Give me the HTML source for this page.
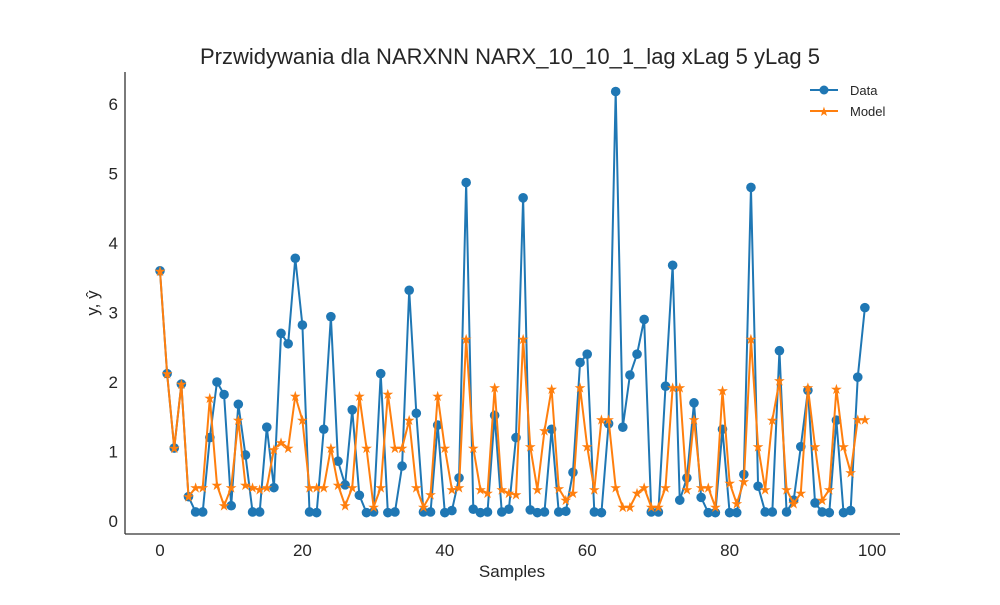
<!DOCTYPE html>
<html><head><meta charset="utf-8"><style>
body{margin:0;background:#fff}
svg text{font-family:"Liberation Sans",sans-serif}
</style></head><body>
<svg id="chart" width="1000" height="600">
<text x="510" y="64" font-size="22" text-anchor="middle" fill="#262626">Przwidywania dla NARXNN NARX_10_10_1_lag xLag 5 yLag 5</text>
<g id="plot"></g>
<line x1="125" y1="72" x2="125" y2="534" stroke="#333" stroke-width="1.3"/>
<line x1="125" y1="534" x2="900" y2="534" stroke="#333" stroke-width="1.3"/>
<text x="512" y="577" font-size="17" text-anchor="middle" fill="#262626">Samples</text>
<text transform="translate(98,303) rotate(-90)" font-size="17" text-anchor="middle" fill="#262626">y, ŷ</text>
<g>
<line x1="810" y1="90" x2="838" y2="90" stroke="#1f77b4" stroke-width="2"/>
<circle cx="824" cy="90" r="4.5" fill="#1f77b4"/>
<text x="850" y="95" font-size="13" fill="#262626">Data</text>
<line x1="810" y1="111" x2="838" y2="111" stroke="#ff7f0e" stroke-width="2"/>
<text x="824" y="116" font-size="13" text-anchor="middle" fill="#ff7f0e">★</text>
<text x="850" y="116" font-size="13" fill="#262626">Model</text>
</g>
</svg>
<script>
const dataValues=[3.6,2.12,1.05,1.97,0.35,0.13,0.13,1.2,2.0,1.82,0.22,1.68,0.95,0.13,0.13,1.35,0.48,2.7,2.55,3.78,2.82,0.13,0.12,1.32,2.94,0.86,0.52,1.6,0.37,0.12,0.13,2.12,0.12,0.13,0.79,3.32,1.55,0.13,0.13,1.38,0.12,0.15,0.62,4.87,0.17,0.12,0.13,1.52,0.13,0.17,1.2,4.65,0.16,0.12,0.13,1.32,0.13,0.14,0.7,2.28,2.4,0.13,0.12,1.4,6.18,1.35,2.1,2.4,2.9,0.13,0.13,1.94,3.68,0.3,0.62,1.7,0.34,0.12,0.12,1.32,0.12,0.12,0.67,4.8,0.5,0.13,0.13,2.45,0.13,0.3,1.07,1.88,0.26,0.13,0.12,1.45,0.12,0.15,2.07,3.07];
const modelValues=[3.6,2.12,1.05,1.97,0.35,0.48,0.48,1.77,0.52,0.22,0.48,1.45,0.52,0.48,0.45,0.48,1.03,1.13,1.05,1.8,1.45,0.48,0.48,0.48,1.05,0.52,0.22,0.48,1.8,1.05,0.2,0.48,1.83,1.05,1.05,1.45,0.48,0.2,0.38,1.8,1.05,0.45,0.48,2.62,1.05,0.45,0.4,1.92,0.45,0.4,0.38,2.62,1.07,0.45,1.3,1.9,0.47,0.3,0.4,1.92,1.07,0.45,1.46,1.46,0.48,0.2,0.2,0.4,0.48,0.2,0.2,0.48,1.92,1.92,0.45,1.46,0.48,0.48,0.2,1.88,0.55,0.25,0.57,2.62,1.07,0.45,1.45,2.02,0.45,0.25,0.4,1.92,1.07,0.3,0.45,1.9,1.07,0.7,1.46,1.46];
const xTicks=[0,20,40,60,80,100];
const yTicks=[0,1,2,3,4,5,6];
const xs=v=>160+v*7.12, ys=v=>521-v*69.5;
const NS='http://www.w3.org/2000/svg';
const svg=document.getElementById('chart'), g=document.getElementById('plot');
function mk(t,a,p){const e=document.createElementNS(NS,t);for(const k in a)e.setAttribute(k,a[k]);(p||g).appendChild(e);return e;}
xTicks.forEach(v=>{const t=mk('text',{x:xs(v),y:556,'font-size':17,'text-anchor':'middle',fill:'#262626'},svg);t.textContent=v;

});
yTicks.forEach(v=>{const t=mk('text',{x:118,y:ys(v)+6,'font-size':17,'text-anchor':'end',fill:'#262626'},svg);t.textContent=v;

});
function series(vals,color,name,star){
 const pl=mk('polyline',{points:vals.map((v,i)=>xs(i)+','+ys(v)).join(' '),fill:'none',stroke:color,'stroke-width':2});
 
 
 vals.forEach((v,i)=>{let m;
  if(star){m=mk('text',{x:xs(i),y:ys(v)+5,'font-size':14,'text-anchor':'middle',fill:color});m.textContent='★';}
  else m=mk('circle',{cx:xs(i),cy:ys(v),r:4.8,fill:color});
  
  });
}
series(dataValues,'#1f77b4','data',false);
series(modelValues,'#ff7f0e','model',true);
</script>
</body></html>
